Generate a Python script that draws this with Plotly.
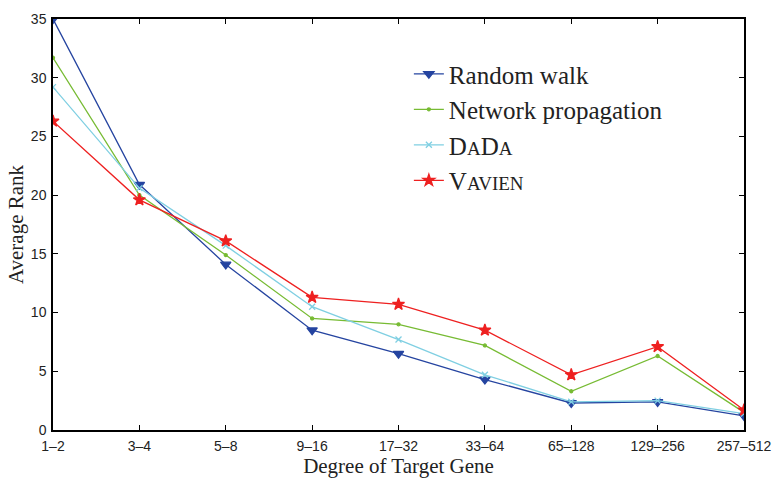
import plotly.graph_objects as go

categories = ["1\u20132", "3\u20134", "5\u20138", "9\u201316", "17\u201332", "33\u201364", "65\u2013128", "129\u2013256", "257\u2013512"]
random_walk = [35.0, 20.9, 14.1, 8.5, 6.5, 4.3, 2.3, 2.4, 1.2]
network_prop = [31.7, 20.0, 14.9, 9.5, 9.0, 7.2, 3.3, 6.3, 1.5]
dada = [29.2, 20.6, 15.7, 10.5, 7.7, 4.7, 2.4, 2.5, 1.4]
vavien = [26.3, 19.6, 16.1, 11.3, 10.7, 8.5, 4.7, 7.1, 1.7]

x = list(range(len(categories)))
sc = "font-size:19px"
series = [
    ("Random walk", random_walk, "#2544a0", "triangle-down", 9),
    ("Network propagation", network_prop, "#77bb33", "circle", 3),
    (f"D<span style='{sc}'>A</span>D<span style='{sc}'>A</span>", dada, "#7fcfe2", "x-thin", 6),
    (f"V<span style='{sc}'>AVIEN</span>", vavien, "#ee2020", "star", 9),
]

fig = go.Figure()
for name, vals, col, sym, size in series:
    fig.add_trace(go.Scatter(
        x=x, y=vals, name=name, mode="lines+markers",
        line=dict(color=col, width=1.3),
        marker=dict(symbol=sym, size=size, color=col, line=dict(color=col, width=1.3)),
    ))

axis_common = dict(showline=True, linecolor="black", linewidth=1.5, mirror="ticks",
                   ticks="inside", ticklen=5, tickcolor="black", showgrid=False, zeroline=False,
                   automargin=False,
                   tickfont=dict(family="Liberation Sans, Arial", size=14, color="#222"))
fig.update_xaxes(tickvals=x, ticktext=categories, range=[0, len(categories) - 1],
                 ticklabelstandoff=2,
                 title=dict(text="Degree of Target Gene", standoff=8,
                            font=dict(family="Liberation Serif, Times New Roman", size=21, color="#222")),
                 **axis_common)
fig.update_yaxes(range=[0, 35], tickvals=[0, 5, 10, 15, 20, 25, 30, 35],
                 ticklabelstandoff=2,
                 title=dict(text="Average Rank", standoff=2,
                            font=dict(family="Liberation Serif, Times New Roman", size=21, color="#222")),
                 **axis_common)
fig.update_layout(
    width=773, height=478, plot_bgcolor="white", paper_bgcolor="white",
    margin=dict(l=53, r=29, t=19, b=48),
    legend=dict(x=0.515, y=0.922, xanchor="left", yanchor="top", bgcolor="rgba(0,0,0,0)",
                font=dict(family="Liberation Serif, Times New Roman", size=25, color="#222"),
                itemwidth=30, tracegroupgap=0),
    showlegend=True,
)
fig.write_html("out.html")
